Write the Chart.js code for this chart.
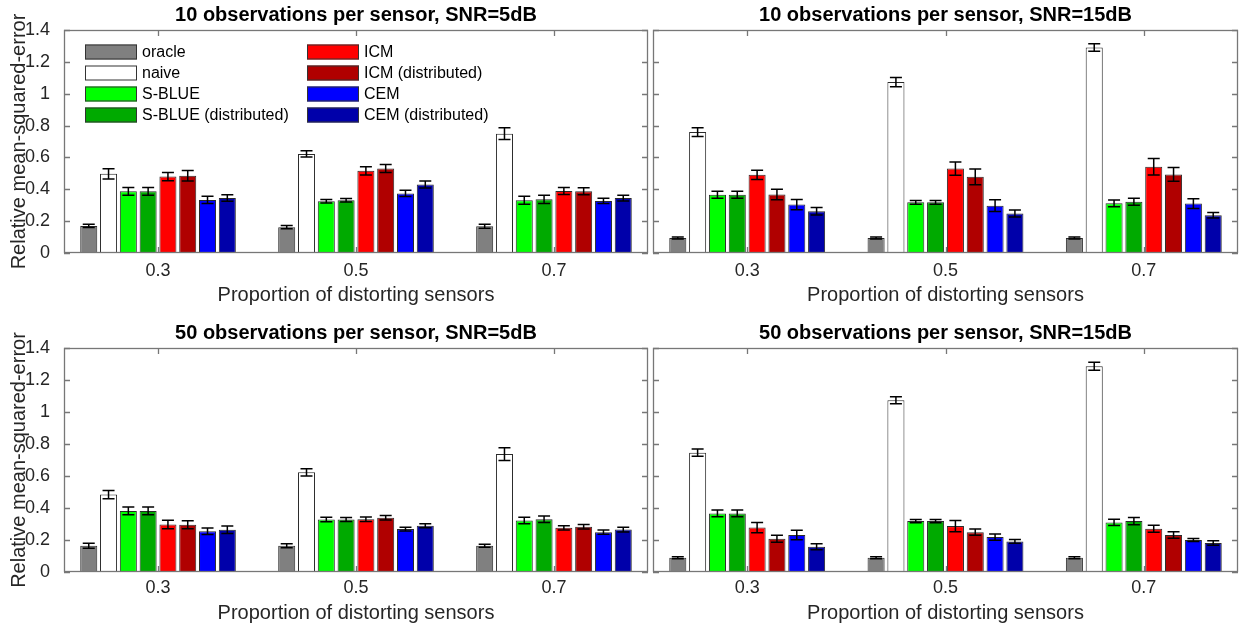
<!DOCTYPE html>
<html>
<head>
<meta charset="utf-8">
<script src="https://cdn.jsdelivr.net/npm/chart.js@4.4.1/dist/chart.umd.min.js"></script>
<style>
  body { margin: 0; background: #fff; }
  #wrap { position: relative; width: 1239px; height: 627px; overflow: hidden; }
  canvas { position: absolute; }
</style>
</head>
<body>
<div id="wrap">
  <canvas id="c10_5" width="650" height="310" style="left:0;top:0"></canvas>
  <canvas id="c10_15" width="589" height="310" style="left:650px;top:0"></canvas>
  <canvas id="c50_5" width="650" height="317" style="left:0;top:310px"></canvas>
  <canvas id="c50_15" width="589" height="317" style="left:650px;top:310px"></canvas>
</div>
<script>
const methods = ['oracle', 'naive', 'S-BLUE', 'S-BLUE (distributed)', 'ICM', 'ICM (distributed)', 'CEM', 'CEM (distributed)'];
const proportions = ['0.3', '0.5', '0.7'];
const yTicks = [0, 0.2, 0.4, 0.6, 0.8, 1, 1.2, 1.4];

// one row per method, one column per proportion
const mse10at5 = [
  [0.170, 0.162, 0.168],
  [0.497, 0.622, 0.749],
  [0.387, 0.325, 0.331],
  [0.387, 0.331, 0.337],
  [0.480, 0.516, 0.389],
  [0.485, 0.530, 0.387],
  [0.333, 0.374, 0.327],
  [0.345, 0.430, 0.345]
];
const err10at5 = [
  [0.010, 0.010, 0.012],
  [0.032, 0.020, 0.037],
  [0.024, 0.011, 0.025],
  [0.024, 0.011, 0.026],
  [0.026, 0.026, 0.022],
  [0.033, 0.025, 0.022],
  [0.023, 0.020, 0.017],
  [0.020, 0.022, 0.018]
];
const mse10at15 = [
  [0.094, 0.094, 0.094],
  [0.759, 1.073, 1.290],
  [0.366, 0.318, 0.312],
  [0.366, 0.318, 0.322],
  [0.491, 0.530, 0.541],
  [0.368, 0.478, 0.493],
  [0.304, 0.297, 0.310],
  [0.262, 0.248, 0.237]
];
const err10at15 = [
  [0.006, 0.006, 0.006],
  [0.027, 0.029, 0.023],
  [0.022, 0.012, 0.021],
  [0.022, 0.012, 0.022],
  [0.029, 0.042, 0.052],
  [0.033, 0.050, 0.043],
  [0.032, 0.037, 0.031],
  [0.023, 0.022, 0.017]
];
const mse50at5 = [
  [0.164, 0.164, 0.164],
  [0.484, 0.623, 0.737],
  [0.382, 0.328, 0.322],
  [0.382, 0.328, 0.330],
  [0.297, 0.330, 0.276],
  [0.295, 0.339, 0.283],
  [0.255, 0.268, 0.249],
  [0.264, 0.289, 0.265]
];
const err50at5 = [
  [0.015, 0.012, 0.010],
  [0.026, 0.023, 0.040],
  [0.024, 0.014, 0.020],
  [0.024, 0.012, 0.020],
  [0.027, 0.014, 0.013],
  [0.025, 0.014, 0.014],
  [0.020, 0.012, 0.013],
  [0.023, 0.012, 0.015]
];
const mse50at15 = [
  [0.089, 0.089, 0.089],
  [0.746, 1.074, 1.286],
  [0.366, 0.318, 0.310],
  [0.366, 0.318, 0.318],
  [0.278, 0.287, 0.270],
  [0.208, 0.249, 0.231],
  [0.231, 0.218, 0.200],
  [0.158, 0.191, 0.181]
];
const err50at15 = [
  [0.006, 0.006, 0.006],
  [0.022, 0.022, 0.025],
  [0.021, 0.010, 0.020],
  [0.021, 0.010, 0.022],
  [0.032, 0.035, 0.022],
  [0.022, 0.020, 0.020],
  [0.030, 0.020, 0.010],
  [0.019, 0.012, 0.014]
];

const colors = ['#808080', '#ffffff', '#00ff00', '#00aa00', '#ff0000', '#b00000', '#0000ff', '#0000aa'];
const FONT = "'Liberation Sans', Arial, Helvetica, sans-serif";

// error bars drawn on top of the bars, positions from the y scale
const errorBars = {
  id: 'errorBars',
  afterDatasetsDraw(chart) {
    const ctx = chart.ctx;
    const y = chart.scales.y;
    ctx.save();
    ctx.strokeStyle = '#000';
    ctx.lineWidth = 1.5;
    chart.data.datasets.forEach((ds, i) => {
      chart.getDatasetMeta(i).data.forEach((bar, j) => {
        const v = ds.data[j].y, e = ds.errors[j];
        const t = y.getPixelForValue(v + e), b = y.getPixelForValue(v - e);
        ctx.beginPath();
        ctx.moveTo(bar.x, t); ctx.lineTo(bar.x, b);
        ctx.moveTo(bar.x - 6, t); ctx.lineTo(bar.x + 6, t);
        ctx.moveTo(bar.x - 6, b); ctx.lineTo(bar.x + 6, b);
        ctx.stroke();
      });
    });
    ctx.restore();
  }
};

// matlab style box with inward ticks
const axesBox = {
  id: 'axesBox',
  afterDraw(chart) {
    const { ctx, chartArea: a, scales: { x, y } } = chart;
    ctx.save();
    ctx.strokeStyle = '#777';
    ctx.lineWidth = 1.3;
    ctx.strokeRect(a.left + 0.5, a.top + 0.5, a.right - a.left - 1, a.bottom - a.top - 1);
    ctx.beginPath();
    y.ticks.forEach(t => {
      const py = Math.round(y.getPixelForValue(t.value)) + 0.5;
      ctx.moveTo(a.left, py); ctx.lineTo(a.left + 6, py);
      ctx.moveTo(a.right - 6, py); ctx.lineTo(a.right, py);
    });
    x.ticks.forEach(t => {
      const px = Math.round(x.getPixelForValue(t.value)) + 0.5;
      ctx.moveTo(px, a.top); ctx.lineTo(px, a.top + 6);
      ctx.moveTo(px, a.bottom); ctx.lineTo(px, a.bottom - 6);
    });
    ctx.stroke();
    ctx.restore();
  }
};

// two column legend inside the first panel
const boxLegend = {
  id: 'boxLegend',
  afterDraw(chart) {
    const ctx = chart.ctx;
    ctx.save();
    ctx.font = '16px ' + FONT;
    ctx.textBaseline = 'middle';
    methods.forEach((m, i) => {
      const col = Math.floor(i / 4), row = i % 4;
      const sx = col ? 307 : 85;
      const cy = 52 + row * 21;
      ctx.fillStyle = colors[i];
      ctx.fillRect(sx, cy - 7.5, 52, 15);
      ctx.strokeStyle = '#333';
      ctx.lineWidth = 1;
      ctx.strokeRect(sx + 0.5, cy - 7, 51, 14);
      ctx.fillStyle = '#000';
      ctx.fillText(m, sx + 57, cy + 1);
    });
    ctx.restore();
  }
};

function makePanel(id, title, values, errors, opt) {
  const datasets = methods.map((m, i) => ({
    label: m,
    data: proportions.map((p, j) => ({ x: j + 1, y: values[i][j] })),
    errors: errors[i],
    backgroundColor: colors[i],
    borderColor: '#2a2a2a',
    borderWidth: 1,
    borderSkipped: false,
    categoryPercentage: 0.8,
    barPercentage: 0.86
  }));
  const plugins = [errorBars, axesBox];
  if (opt.legend) plugins.push(boxLegend);

  new Chart(document.getElementById(id), {
    type: 'bar',
    data: { datasets: datasets },
    plugins: plugins,
    options: {
      responsive: false,
      animation: false,
      layout: { padding: { left: 0, right: opt.right, top: 0, bottom: 0 } },
      plugins: {
        legend: { display: false },
        tooltip: { enabled: false },
        title: {
          display: true,
          fullSize: false,
          text: title,
          color: '#000',
          font: { family: FONT, size: 20, weight: 'bold', lineHeight: 1.2 },
          padding: { top: opt.titleTop, bottom: opt.titleBottom }
        }
      },
      scales: {
        x: {
          type: 'linear',
          min: 0.525,
          max: 3.475,
          offset: false,
          grid: { display: false, drawTicks: false },
          border: { display: false },
          afterBuildTicks: (s) => { s.ticks = proportions.map((p, j) => ({ value: j + 1 })); },
          afterFit: (s) => { s.height = opt.xHeight; },
          ticks: {
            padding: opt.xTickPad,
            color: '#262626',
            font: { family: FONT, size: 18 },
            callback: (v) => proportions[Math.round(v) - 1]
          },
          title: {
            display: true,
            text: 'Proportion of distorting sensors',
            color: '#262626',
            font: { family: FONT, size: 20, lineHeight: 1.2 },
            padding: { top: 0, bottom: opt.xTitlePad }
          }
        },
        y: {
          min: 0,
          max: 1.4,
          grid: { display: false, drawTicks: false },
          border: { display: false },
          afterBuildTicks: (s) => { s.ticks = yTicks.map(v => ({ value: v })); },
          afterFit: (s) => { s.width = opt.yWidth; },
          ticks: {
            display: opt.showY,
            padding: 14,
            color: '#262626',
            font: { family: FONT, size: 18 },
            callback: (v) => String(Math.round(v * 10) / 10)
          },
          title: {
            display: opt.showY,
            text: 'Relative mean-squared-error',
            color: '#262626',
            font: { family: FONT, size: 20, lineHeight: 1.2 },
            padding: { top: 7, bottom: 0 }
          }
        }
      }
    }
  });
}

const topRow = { titleTop: 3, titleBottom: 3, xHeight: 57, xTickPad: 7, xTitlePad: 3 };
const bottomRow = { titleTop: 11, titleBottom: 3, xHeight: 55, xTickPad: 5, xTitlePad: 2 };

makePanel('c10_5', '10 observations per sensor, SNR=5dB', mse10at5, err10at5,
  Object.assign({}, topRow, { showY: true, yWidth: 64, right: 2, legend: true }));
makePanel('c10_15', '10 observations per sensor, SNR=15dB', mse10at15, err10at15,
  Object.assign({}, topRow, { showY: false, yWidth: 3, right: 1 }));
makePanel('c50_5', '50 observations per sensor, SNR=5dB', mse50at5, err50at5,
  Object.assign({}, bottomRow, { showY: true, yWidth: 64, right: 2 }));
makePanel('c50_15', '50 observations per sensor, SNR=15dB', mse50at15, err50at15,
  Object.assign({}, bottomRow, { showY: false, yWidth: 3, right: 1 }));
</script>
</body>
</html>
